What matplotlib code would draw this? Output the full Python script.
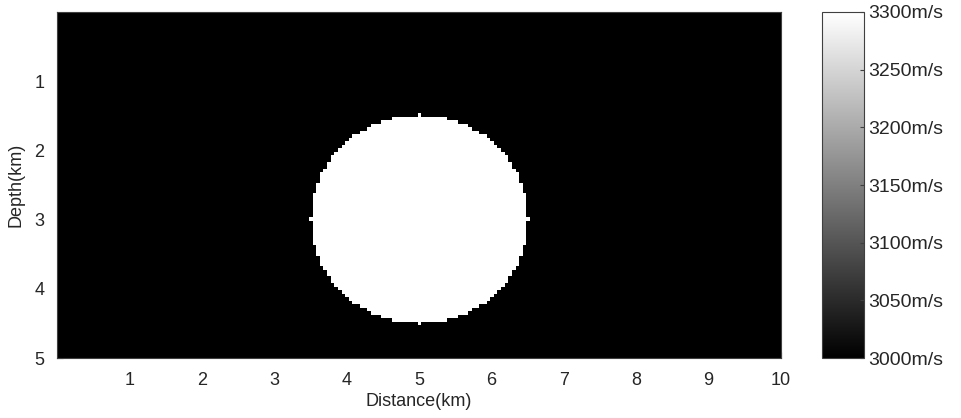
import numpy as np
import matplotlib
matplotlib.use("Agg")
import matplotlib.pyplot as plt

# velocity model: constant background with a circular high-velocity body
V_BACKGROUND = 3000.0   # m/s
V_ANOMALY = 3300.0      # m/s
MODEL_WIDTH = 10.0      # km
MODEL_DEPTH = 5.0       # km
CIRCLE_X = 5.0          # km
CIRCLE_Z = 3.0          # km
CIRCLE_R = 1.5          # km
DX = 0.05               # km grid spacing

X_TICKS = [1, 2, 3, 4, 5, 6, 7, 8, 9, 10]
Z_TICKS = [1, 2, 3, 4, 5]
CBAR_TICKS = [3000, 3050, 3100, 3150, 3200, 3250, 3300]

plt.rcParams.update({
    "font.family": ["Liberation Sans", "DejaVu Sans"],
    "font.size": 13,
    "text.color": "#262626",
    "axes.labelcolor": "#262626",
    "axes.edgecolor": "#404040",
    "axes.linewidth": 0.8,
    "xtick.color": "#262626",
    "ytick.color": "#262626",
})

x = np.arange(0, MODEL_WIDTH + DX / 2, DX)
z = np.arange(0, MODEL_DEPTH + DX / 2, DX)
X, Z = np.meshgrid(x, z)
vel = np.full(X.shape, V_BACKGROUND)
vel[(X - CIRCLE_X) ** 2 + (Z - CIRCLE_Z) ** 2 <= CIRCLE_R ** 2 + 1e-9] = V_ANOMALY

fig = plt.figure(figsize=(9.61, 4.18), dpi=100)
ax = fig.add_axes([0.0593, 0.1435, 0.7534, 0.8278])
cax = fig.add_axes([0.8554, 0.1435, 0.0437, 0.8278])

im = ax.imshow(vel, cmap="gray", vmin=V_BACKGROUND, vmax=V_ANOMALY,
               interpolation="nearest", aspect="auto",
               extent=[x[0] - DX / 2, x[-1] + DX / 2, z[-1] + DX / 2, z[0] - DX / 2])
ax.set_xlim(0, MODEL_WIDTH)
ax.set_ylim(MODEL_DEPTH, 0)
ax.set_xticks(X_TICKS)
ax.set_yticks(Z_TICKS)
ax.tick_params(direction="in", length=4, color="black")
ax.tick_params(axis="x", pad=10)
ax.tick_params(axis="y", pad=9)
ax.set_xlabel("Distance(km)", labelpad=3)
ax.set_ylabel("Depth(km)", labelpad=7)

cb = fig.colorbar(im, cax=cax)
cb.set_ticks(CBAR_TICKS)
cb.set_ticklabels([f"{t}m/s" for t in CBAR_TICKS])
cb.outline.set_edgecolor("#404040")
cb.outline.set_linewidth(0.8)
cax.tick_params(direction="in", length=3, color="#404040", pad=3, labelsize=14)

fig.savefig("out.png", dpi=100)
